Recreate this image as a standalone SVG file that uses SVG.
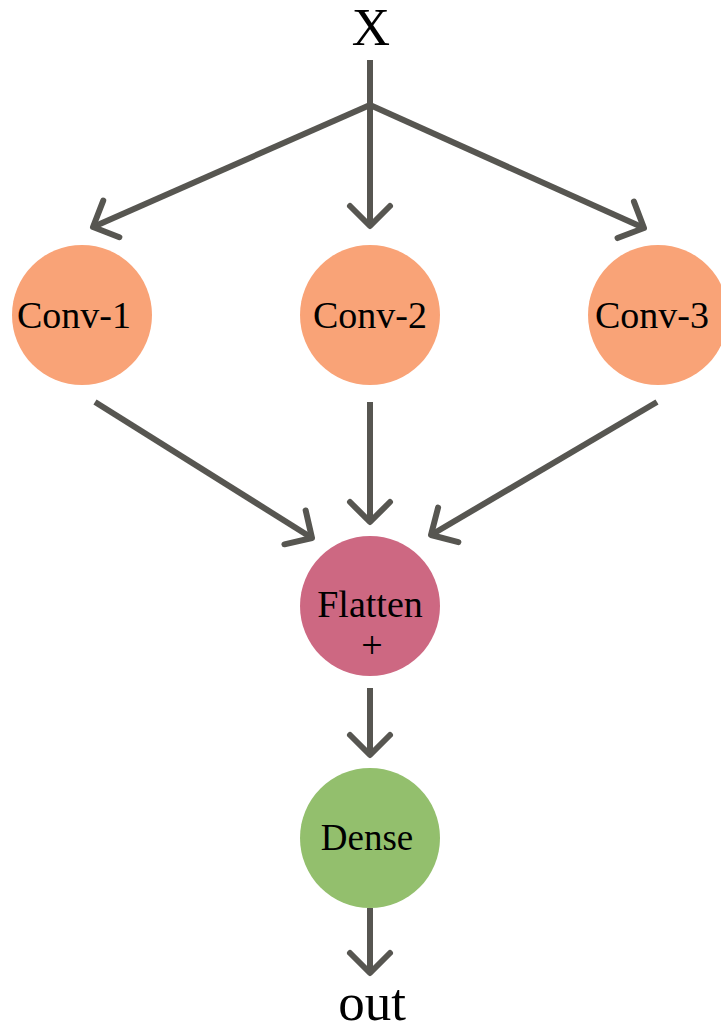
<svg xmlns="http://www.w3.org/2000/svg" width="721" height="1032" viewBox="0 0 721 1032">
<style>
.lbl{font-family:"Liberation Serif","Times New Roman",serif;fill:#000;text-anchor:middle}
.n{font-size:38px}
.big{font-size:53px}
.edge{fill:none;stroke:#575651;stroke-width:6;marker-end:url(#ah)}
.plain{fill:none;stroke:#575651;stroke-width:6}
</style>
<defs>
<marker id="ah" markerUnits="userSpaceOnUse" markerWidth="60" markerHeight="60" viewBox="-30 -30 60 60" refX="0" refY="0" orient="auto" overflow="visible">
<path d="M-20,-20 L0,0 L-20,20" fill="none" stroke="#575651" stroke-width="6" stroke-linecap="round" stroke-linejoin="round"/>
</marker>
</defs>
<rect width="721" height="1032" fill="#fff"/>
<g id="connectors">
<line class="plain" x1="370" y1="60" x2="370" y2="106"/>
<line class="edge" x1="370" y1="105" x2="93" y2="227"/>
<line class="edge" x1="370" y1="105" x2="370" y2="226"/>
<line class="edge" x1="370" y1="105" x2="644" y2="228"/>
<line class="edge" x1="95" y1="402" x2="312" y2="538"/>
<line class="edge" x1="370" y1="402" x2="370" y2="522"/>
<line class="edge" x1="657" y1="402" x2="431" y2="535"/>
<line class="edge" x1="370" y1="688" x2="370" y2="755"/>
<line class="edge" x1="370" y1="908" x2="370" y2="973"/>
</g>
<g id="x"><text class="lbl big" x="371" y="45">X</text></g>
<g id="conv1"><circle cx="82" cy="315" r="70" fill="#F9A377"/><text class="lbl n" x="74" y="328">Conv-1</text></g>
<g id="conv2"><circle cx="370" cy="315" r="70" fill="#F9A377"/><text class="lbl n" x="370" y="328">Conv-2</text></g>
<g id="conv3"><circle cx="658" cy="315" r="70" fill="#F9A377"/><text class="lbl n" x="652" y="328">Conv-3</text></g>
<g id="flatten"><circle cx="370" cy="606" r="70" fill="#CD6882"/><text class="lbl n" x="370" y="617">Flatten</text><text class="lbl n" x="372" y="658">+</text></g>
<g id="dense"><circle cx="370" cy="838" r="70" fill="#93BF6D"/><text class="lbl" style="font-size:37px" x="367" y="850">Dense</text></g>
<g id="out"><text class="lbl big" x="372" y="1020">out</text></g>
</svg>
